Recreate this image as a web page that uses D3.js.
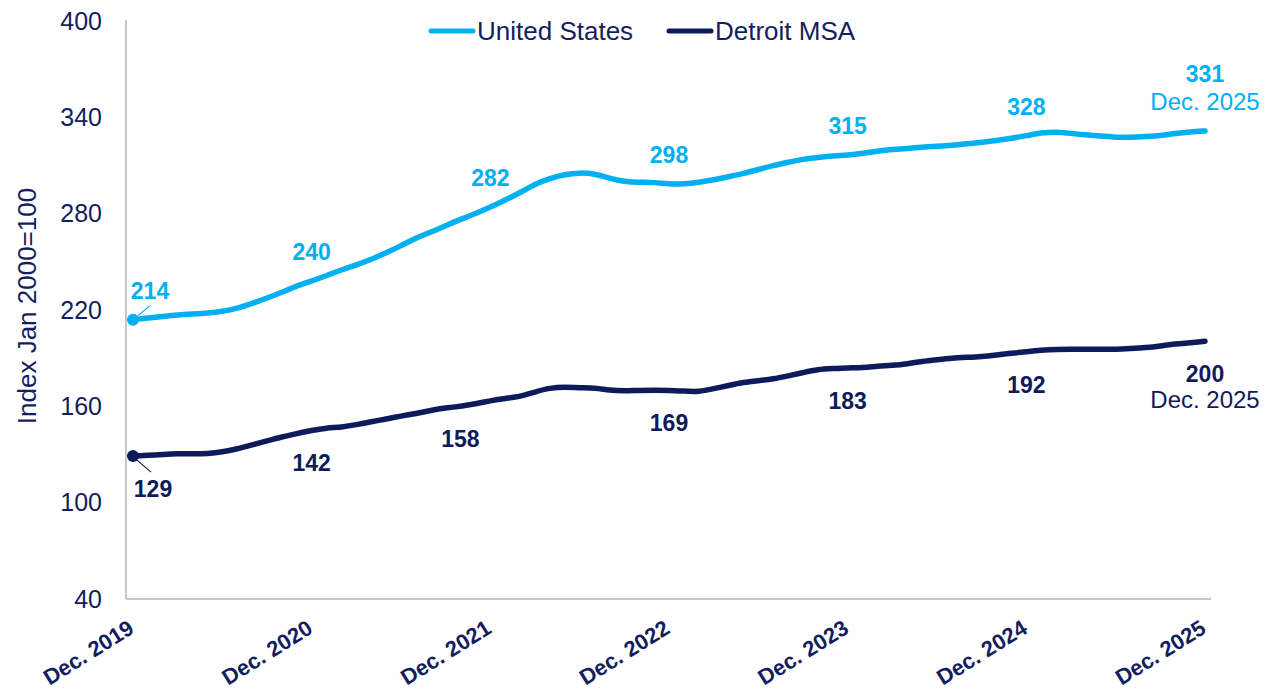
<!DOCTYPE html>
<html>
<head>
<meta charset="utf-8">
<script src="https://cdnjs.cloudflare.com/ajax/libs/d3/7.8.5/d3.min.js"></script>
<style>
  body { margin: 0; background: #ffffff; }
  svg { display: block; font-family: "Liberation Sans", Arial, sans-serif; }
</style>
</head>
<body>
<svg id="chart" width="1272" height="693"></svg>
<script>
// monthly index values, Dec. 2019 .. Dec. 2025
var usValues = [
  214, 215, 216, 217, 217.5, 218, 219, 221, 224, 227.5, 231, 235,
  238, 241.5, 245, 248, 251.5, 255.5, 260, 265, 268.5, 272.5, 276.5, 280,
  284, 288.5, 293, 298.5, 302, 304.5, 305.5, 305, 302, 300, 299.5, 299.5,
  298.5, 298.5, 299.5, 301, 303, 305, 307.5, 310, 312, 314, 315, 316,
  316.5, 317.5, 319, 320, 320.5, 321.5, 322, 322.5, 323.5, 324.5, 325.5, 327,
  328.5, 330.5, 331, 330, 329, 328.5, 327.5, 327.5, 328, 328.5, 330, 331,
  331.5
];
var detroitValues = [
  129, 129.5, 130, 130.5, 130.5, 130.5, 131.5, 133.5, 136, 138.5, 141, 143,
  145, 146.5, 147, 148.5, 150.5, 152, 154, 155.5, 157.5, 159, 160, 161.5,
  163.5, 165, 166, 169, 171.5, 172, 171.5, 171.5, 170, 169.5, 170, 170,
  170, 169.5, 169, 171, 173, 175, 176, 177, 179, 181, 183, 183.5,
  184, 184, 185, 185.5, 186.5, 188, 189, 190, 190.5, 191, 192, 193,
  194, 195, 195.5, 195.5, 195.5, 195.5, 195.5, 196, 196.5, 197.5, 199, 199.5,
  200.5
];

var yTicks = [40, 100, 160, 220, 280, 340, 400];
var xTickIdx = [0, 12, 24, 36, 48, 60, 72];
var xTickLabels = ["Dec. 2019", "Dec. 2020", "Dec. 2021", "Dec. 2022", "Dec. 2023", "Dec. 2024", "Dec. 2025"];

// point labels shown on the chart
var usLabels = ["214", "240", "282", "298", "315", "328", "331"];
var detroitLabels = ["129", "142", "158", "169", "183", "192", "200"];
var lastLabel = "Dec. 2025";

var seriesNames = ["United States", "Detroit MSA"];
var colors = ["#00B0F0", "#0F1A5C"];
var textColor = "#141E5E";

var svg = d3.select("#chart");

var x = d3.scaleLinear().domain([0, 72]).range([133, 1205]);
var y = d3.scaleLinear().domain([40, 400]).range([599, 21]);

// frame
svg.append("line")
  .attr("x1", 126).attr("x2", 126).attr("y1", 20).attr("y2", 599)
  .attr("stroke", "#B4B4B4").attr("stroke-width", 1.5);
svg.append("line")
  .attr("x1", 126).attr("x2", 1211).attr("y1", 599).attr("y2", 599)
  .attr("stroke", "#B4B4B4").attr("stroke-width", 1.5);

// y axis
var yAxis = svg.append("g")
  .attr("transform", "translate(126,0)")
  .call(d3.axisLeft(y).tickValues(yTicks).tickSize(0).tickPadding(24));
yAxis.select(".domain").remove();
yAxis.selectAll("text")
  .attr("fill", textColor)
  .style("font-size", "25px")
  .style("font-family", "'Liberation Sans', Arial, sans-serif");

svg.append("text")
  .attr("transform", "translate(36,306) rotate(-90)")
  .attr("text-anchor", "middle")
  .attr("fill", textColor)
  .style("font-size", "26px")
  .text("Index Jan 2000=100");

// x axis labels
var xAxis = svg.append("g")
  .attr("transform", "translate(0,599)")
  .call(d3.axisBottom(x).tickValues(xTickIdx).tickSize(0)
    .tickFormat(function (d, i) { return xTickLabels[i]; }));
xAxis.select(".domain").remove();
xAxis.selectAll("text")
  .attr("fill", textColor)
  .attr("text-anchor", "end")
  .attr("dy", 0)
  .attr("y", 0)
  .attr("transform", "translate(2,33) rotate(-32)")
  .style("font-size", "22px")
  .style("font-weight", "bold")
  .style("font-family", "'Liberation Sans', Arial, sans-serif");

// lines
var line = d3.line()
  .x(function (d, i) { return x(i); })
  .y(function (d) { return y(d); })
  .curve(d3.curveBasis);

[usValues, detroitValues].forEach(function (vals, k) {
  svg.append("path")
    .datum(vals)
    .attr("fill", "none")
    .attr("stroke", colors[k])
    .attr("stroke-width", 5.5)
    .attr("stroke-linecap", "round")
    .attr("stroke-linejoin", "round")
    .attr("d", line);

  svg.append("circle")
    .attr("cx", x(0)).attr("cy", y(vals[0])).attr("r", 6)
    .attr("fill", colors[k]);
});

// leader lines for the first points
svg.append("line")
  .attr("x1", x(0) + 5).attr("y1", y(usValues[0]) - 4)
  .attr("x2", x(0) + 17).attr("y2", y(usValues[0]) - 14)
  .attr("stroke", colors[0]).attr("stroke-width", 1.2);
svg.append("line")
  .attr("x1", x(0) + 4).attr("y1", y(detroitValues[0]) + 4)
  .attr("x2", x(0) + 18).attr("y2", y(detroitValues[0]) + 16)
  .attr("stroke", colors[1]).attr("stroke-width", 1.2);

// point labels
xTickIdx.forEach(function (idx, i) {
  var dx = i === 0 ? 17 : 0;
  svg.append("text")
    .attr("x", x(idx) + dx)
    .attr("y", y(usValues[idx]) - (i === 6 ? 49 : 21))
    .attr("text-anchor", "middle")
    .attr("fill", colors[0])
    .style("font-size", "23px")
    .style("font-weight", "bold")
    .text(usLabels[i]);

  var ddx = i === 0 ? 20 : (i === 2 ? -30 : 0);
  var di = i === 2 ? 22 : idx;
  svg.append("text")
    .attr("x", x(idx) + ddx)
    .attr("y", y(detroitValues[di]) + 41)
    .attr("text-anchor", "middle")
    .attr("fill", colors[1])
    .style("font-size", "23px")
    .style("font-weight", "bold")
    .text(detroitLabels[i]);
});

svg.append("text")
  .attr("x", x(72)).attr("y", y(usValues[72]) - 21)
  .attr("text-anchor", "middle")
  .attr("fill", colors[0])
  .style("font-size", "24px")
  .text(lastLabel);
svg.append("text")
  .attr("x", x(72)).attr("y", y(detroitValues[72]) + 67)
  .attr("text-anchor", "middle")
  .attr("fill", colors[1])
  .style("font-size", "24px")
  .text(lastLabel);

// legend
var legendX = [429, 667];
seriesNames.forEach(function (name, k) {
  var g = svg.append("g").attr("transform", "translate(" + legendX[k] + ",31)");
  g.append("line")
    .attr("x1", 2).attr("x2", 44).attr("y1", 0).attr("y2", 0)
    .attr("stroke", colors[k]).attr("stroke-width", 5)
    .attr("stroke-linecap", "round");
  g.append("text")
    .attr("x", 48).attr("y", 9)
    .attr("fill", textColor)
    .style("font-size", "26px")
    .text(name);
});
</script>
</body>
</html>
